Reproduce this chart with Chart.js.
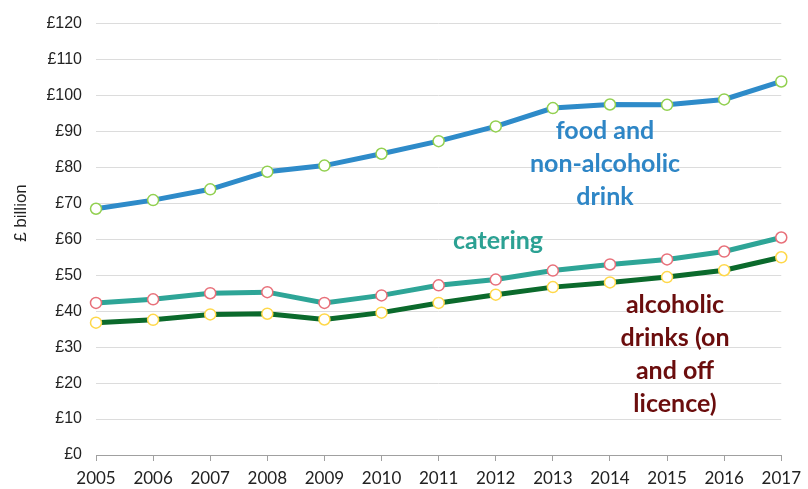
<!DOCTYPE html>
<html>
<head>
<meta charset="utf-8">
<script src="https://cdn.jsdelivr.net/npm/chart.js@4"></script>
<style>
html,body{margin:0;padding:0;background:#fff;}
#wrap{width:808px;height:489px;position:relative;}
</style>
</head>
<body>
<div id="wrap"><canvas id="c" width="808" height="489"></canvas></div>
<script>
const years = ['2005','2006','2007','2008','2009','2010','2011','2012','2013','2014','2015','2016','2017'];
const foodValues = [68.5, 70.9, 73.9, 78.8, 80.5, 83.8, 87.3, 91.4, 96.5, 97.5, 97.4, 98.9, 103.9];
const cateringValues = [42.3, 43.3, 45.0, 45.3, 42.3, 44.4, 47.2, 48.8, 51.3, 53.0, 54.4, 56.6, 60.5];
const alcoholValues = [36.8, 37.6, 39.1, 39.3, 37.7, 39.6, 42.3, 44.6, 46.7, 48.0, 49.5, 51.4, 55.0];
const yTitle = '£ billion';
const seriesLabels = [
  {lines:['food and','non-alcoholic','drink'], color:'#2e86c6', x:605, y:131},
  {lines:['catering'], color:'#2ba193', x:498, y:241},
  {lines:['alcoholic','drinks (on','and off','licence)'], color:'#6b0d0d', x:675, y:305}
];

const labelPlugin = {
  id:'labels',
  afterDraw(chart){
    const ctx = chart.ctx;
    ctx.save();
    ctx.translate(21, 213);
    ctx.rotate(-Math.PI/2);
    ctx.font = '17px "Liberation Sans", Arial, sans-serif';
    ctx.fillStyle = '#222';
    ctx.textAlign = 'center';
    ctx.textBaseline = 'middle';
    ctx.fillText(yTitle, 0, 0);
    ctx.restore();
    ctx.save();
    ctx.font = 'bold 25px Lato, "Open Sans", sans-serif';
    ctx.textAlign = 'center';
    ctx.textBaseline = 'middle';
    seriesLabels.forEach(l=>{
      ctx.fillStyle = l.color;
      l.lines.forEach((t,i)=>ctx.fillText(t, l.x, l.y + i*33));
    });
    ctx.restore();
  }
};

function ds(label, data, line, marker){
  return {label, data, borderColor:line, borderWidth:5, backgroundColor:'#fff',
    pointRadius:5.5, pointBorderColor:marker, pointBackgroundColor:'#fff', pointBorderWidth:1.5,
    pointHoverRadius:5.5, tension:0, fill:false};
}

new Chart(document.getElementById('c'), {
  type:'line',
  data:{
    labels: years,
    datasets:[
      ds('food and non-alcoholic drink', foodValues, '#2e8bc9', '#92d050'),
      ds('catering', cateringValues, '#2ea597', '#e8707a'),
      ds('alcoholic drinks (on and off licence)', alcoholValues, '#0b6a2c', '#ffd84a')
    ]
  },
  options:{
    responsive:false,
    animation:false,
    layout:{padding:{top:21,right:21,bottom:0,left:0}},
    plugins:{legend:{display:false}, tooltip:{enabled:false}},
    scales:{
      x:{
        offset:false,
        grid:{display:true, drawOnChartArea:false, drawTicks:true, tickLength:6, color:'#a0a0a0'},
        border:{display:true, color:'#a0a0a0', width:1},
        ticks:{color:'#222', font:{family:'Lato, "Open Sans", sans-serif', size:17}, padding:7, maxRotation:0, autoSkip:false},
        afterFit(s){ s.height = 34; }
      },
      y:{
        min:0, max:120,
        grid:{color:'#dcdcdc', lineWidth:1, drawTicks:false},
        border:{display:false},
        ticks:{stepSize:10, color:'#222', padding:14, font:{family:'"Liberation Sans", Arial, sans-serif', size:16},
          callback:v=>'£'+v},
        afterFit(s){ s.width = 96; }
      }
    }
  },
  plugins:[labelPlugin]
});
</script>
</body>
</html>
